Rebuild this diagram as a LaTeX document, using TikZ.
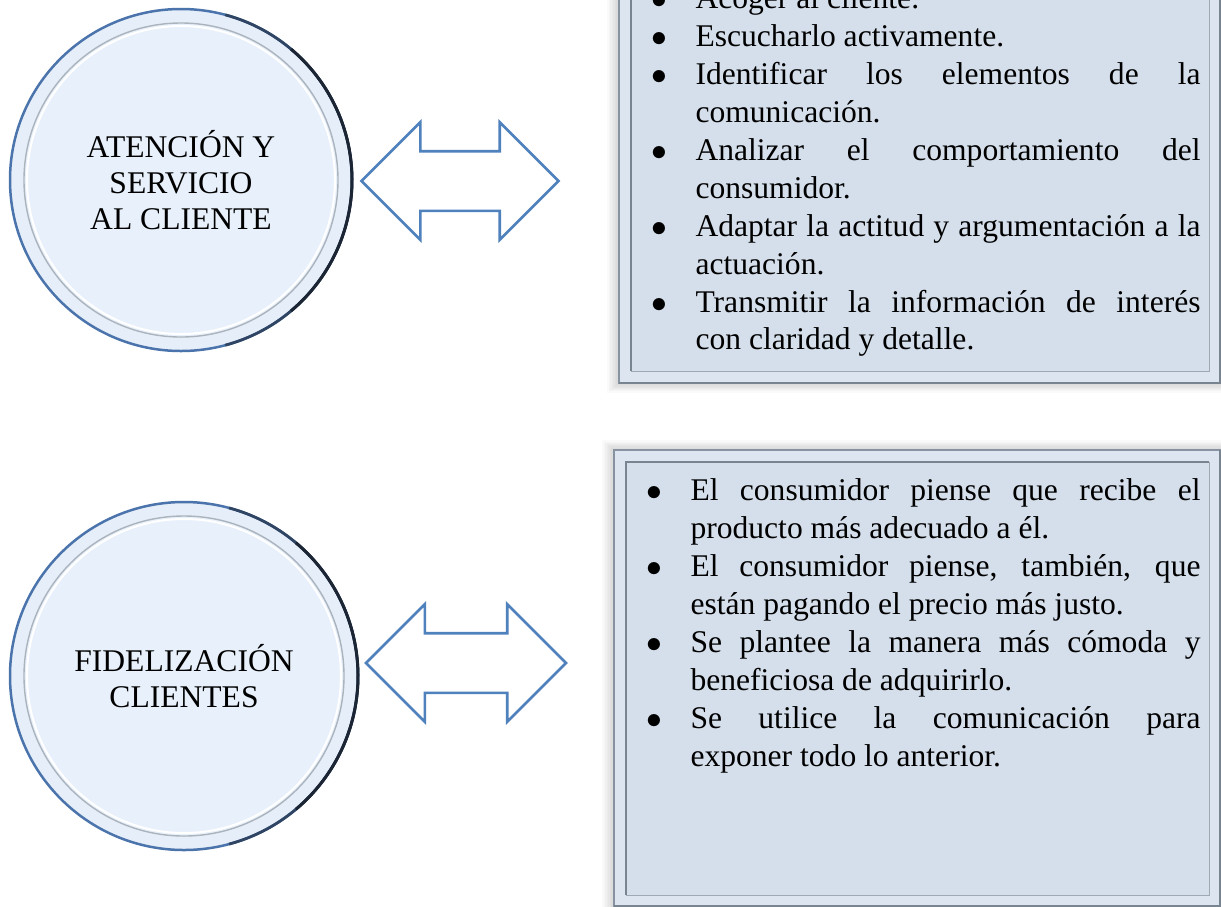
\documentclass[tikz,border=0pt]{standalone}
\usepackage{fontspec}
\setmainfont{Liberation Serif}
\usetikzlibrary{shapes.arrows}

\newdimen\px
\px=0.38pt

\definecolor{azulflecha}{HTML}{4F81BD}
\definecolor{azulborde}{HTML}{4C74AC}
\definecolor{bordeoscuro}{HTML}{1C2533}
\definecolor{anillo}{HTML}{E6EFF9}
\definecolor{azuldisco}{HTML}{E8F1FB}
\definecolor{cajafondo}{HTML}{D5DFEB}
\definecolor{cajamarco}{HTML}{DCE5F0}
\definecolor{cajalinea}{HTML}{8793A1}

\newenvironment{puntos}{%
  \begin{list}{$\bullet$}{%
    \setlength{\leftmargin}{45\px}%
    \setlength{\labelsep}{28\px}%
    \setlength{\labelwidth}{18\px}%
    \setlength{\itemsep}{0pt}\setlength{\parsep}{0pt}%
    \setlength{\topsep}{0pt}\setlength{\partopsep}{0pt}}%
  \tolerance=10000}
  {\end{list}}

\tikzset{
  aro/.style={circle, minimum size=#1, inner sep=0pt, outer sep=0pt,
    fill=anillo, draw=azulborde, line width=2.5\px},
  disco/.style={circle, minimum size=#1, inner sep=0pt, outer sep=0pt,
    fill=azuldisco, draw=cajalinea!70, line width=1.4\px, align=center,
    font=\fontsize{12}{13.8}\selectfont},
  flecha/.style={double arrow, draw=azulflecha, fill=white, line width=2.7\px,
    inner xsep=0pt, inner ysep=28.5\px, double arrow tip angle=90,
    double arrow head extend=29\px, minimum height=197\px},
  marco/.style={fill=cajamarco, draw=cajalinea, line width=1.2\px},
  fondo/.style={fill=cajafondo, draw=cajalinea!80, line width=1\px},
  bisel/.style={draw=cajalinea!90!black, line width=2.2\px},
  lista/.style={anchor=base west, inner sep=0pt, text width=#1, align=justify,
    font=\fontsize{12}{14.4}\selectfont}
}

\begin{document}
\begin{tikzpicture}[x=\px, y=-\px]
\useasboundingbox (0,0) rectangle (1221,906);
\clip (0,0) rectangle (1221,906);
\fill[white] (0,0) rectangle (1221,906);

% sombras de los recuadros
\foreach \s in {1,...,8}{
  \fill[black, opacity=0.02] (619-1.5*\s,-30) rectangle (1240,383+1.2*\s);
  \fill[black, opacity=0.02] (614-1.5*\s,450-1.2*\s) rectangle (1240,930);
}

% recuadros
\path[marco] (619,-30) rectangle (1220,383);
\path[fondo] (631,-30) rectangle (1209,371);
\draw[bisel] (619,383) -- (1220,383) -- (1220,-30);
\draw[bisel, line width=1.4\px] (631,371) -- (631,-30);
\path[marco] (614,450) rectangle (1220,930);
\path[fondo] (626,462) rectangle (1209,895);
\draw[bisel] (614,906) -- (1220,906) -- (1220,450);
\draw[bisel] (626,895) -- (626,462) -- (1209,462);

% circulos
\node[aro=342\px] (aro1) at (181,180) {};
\draw[bordeoscuro!60!azulborde, line width=2.8\px] (aro1.-75) arc[start angle=-75, end angle=75, radius=171\px];
\draw[bordeoscuro, line width=3\px] (aro1.-50) arc[start angle=-50, end angle=50, radius=171\px];
\node[disco=314\px] (atencion) at (aro1) {ATENCIÓN Y\\SERVICIO\\AL CLIENTE};
\draw[white, line width=2\px] (atencion.center) circle[radius=154\px];

\node[aro=348\px] (aro2) at (184,676) {};
\draw[bordeoscuro!60!azulborde, line width=2.8\px] (aro2.-75) arc[start angle=-75, end angle=75, radius=174\px];
\draw[bordeoscuro, line width=3\px] (aro2.-50) arc[start angle=-50, end angle=50, radius=174\px];
\node[disco=320\px] (fidelizacion) at (aro2) {FIDELIZACIÓN\\CLIENTES};
\draw[white, line width=2\px] (fidelizacion.center) circle[radius=157\px];

% flechas dobles
\node[flecha] (ida1) at (460,181) {};
\node[flecha, minimum height=200\px] (ida2) at (466,663) {};

% listas
\node[lista=550\px] (tareas) at (650,-29) {\begin{puntos}
\item Acoger al cliente.
\item Escucharlo activamente.
\item Identificar los elementos de la\linebreak comunicación.
\item Analizar el comportamiento del\linebreak consumidor.
\item Adaptar la actitud y argumentación a la\linebreak actuación.
\item Transmitir la información de interés\linebreak con claridad y detalle.
\end{puntos}};

\node[lista=555\px] (metas) at (645,463) {\begin{puntos}
\item El consumidor piense que recibe el\linebreak producto más adecuado a él.
\item El consumidor piense, también, que\linebreak están pagando el precio más justo.
\item Se plantee la manera más cómoda y\linebreak beneficiosa de adquirirlo.
\item Se utilice la comunicación para\linebreak exponer todo lo anterior.
\end{puntos}};
\end{tikzpicture}
\end{document}
